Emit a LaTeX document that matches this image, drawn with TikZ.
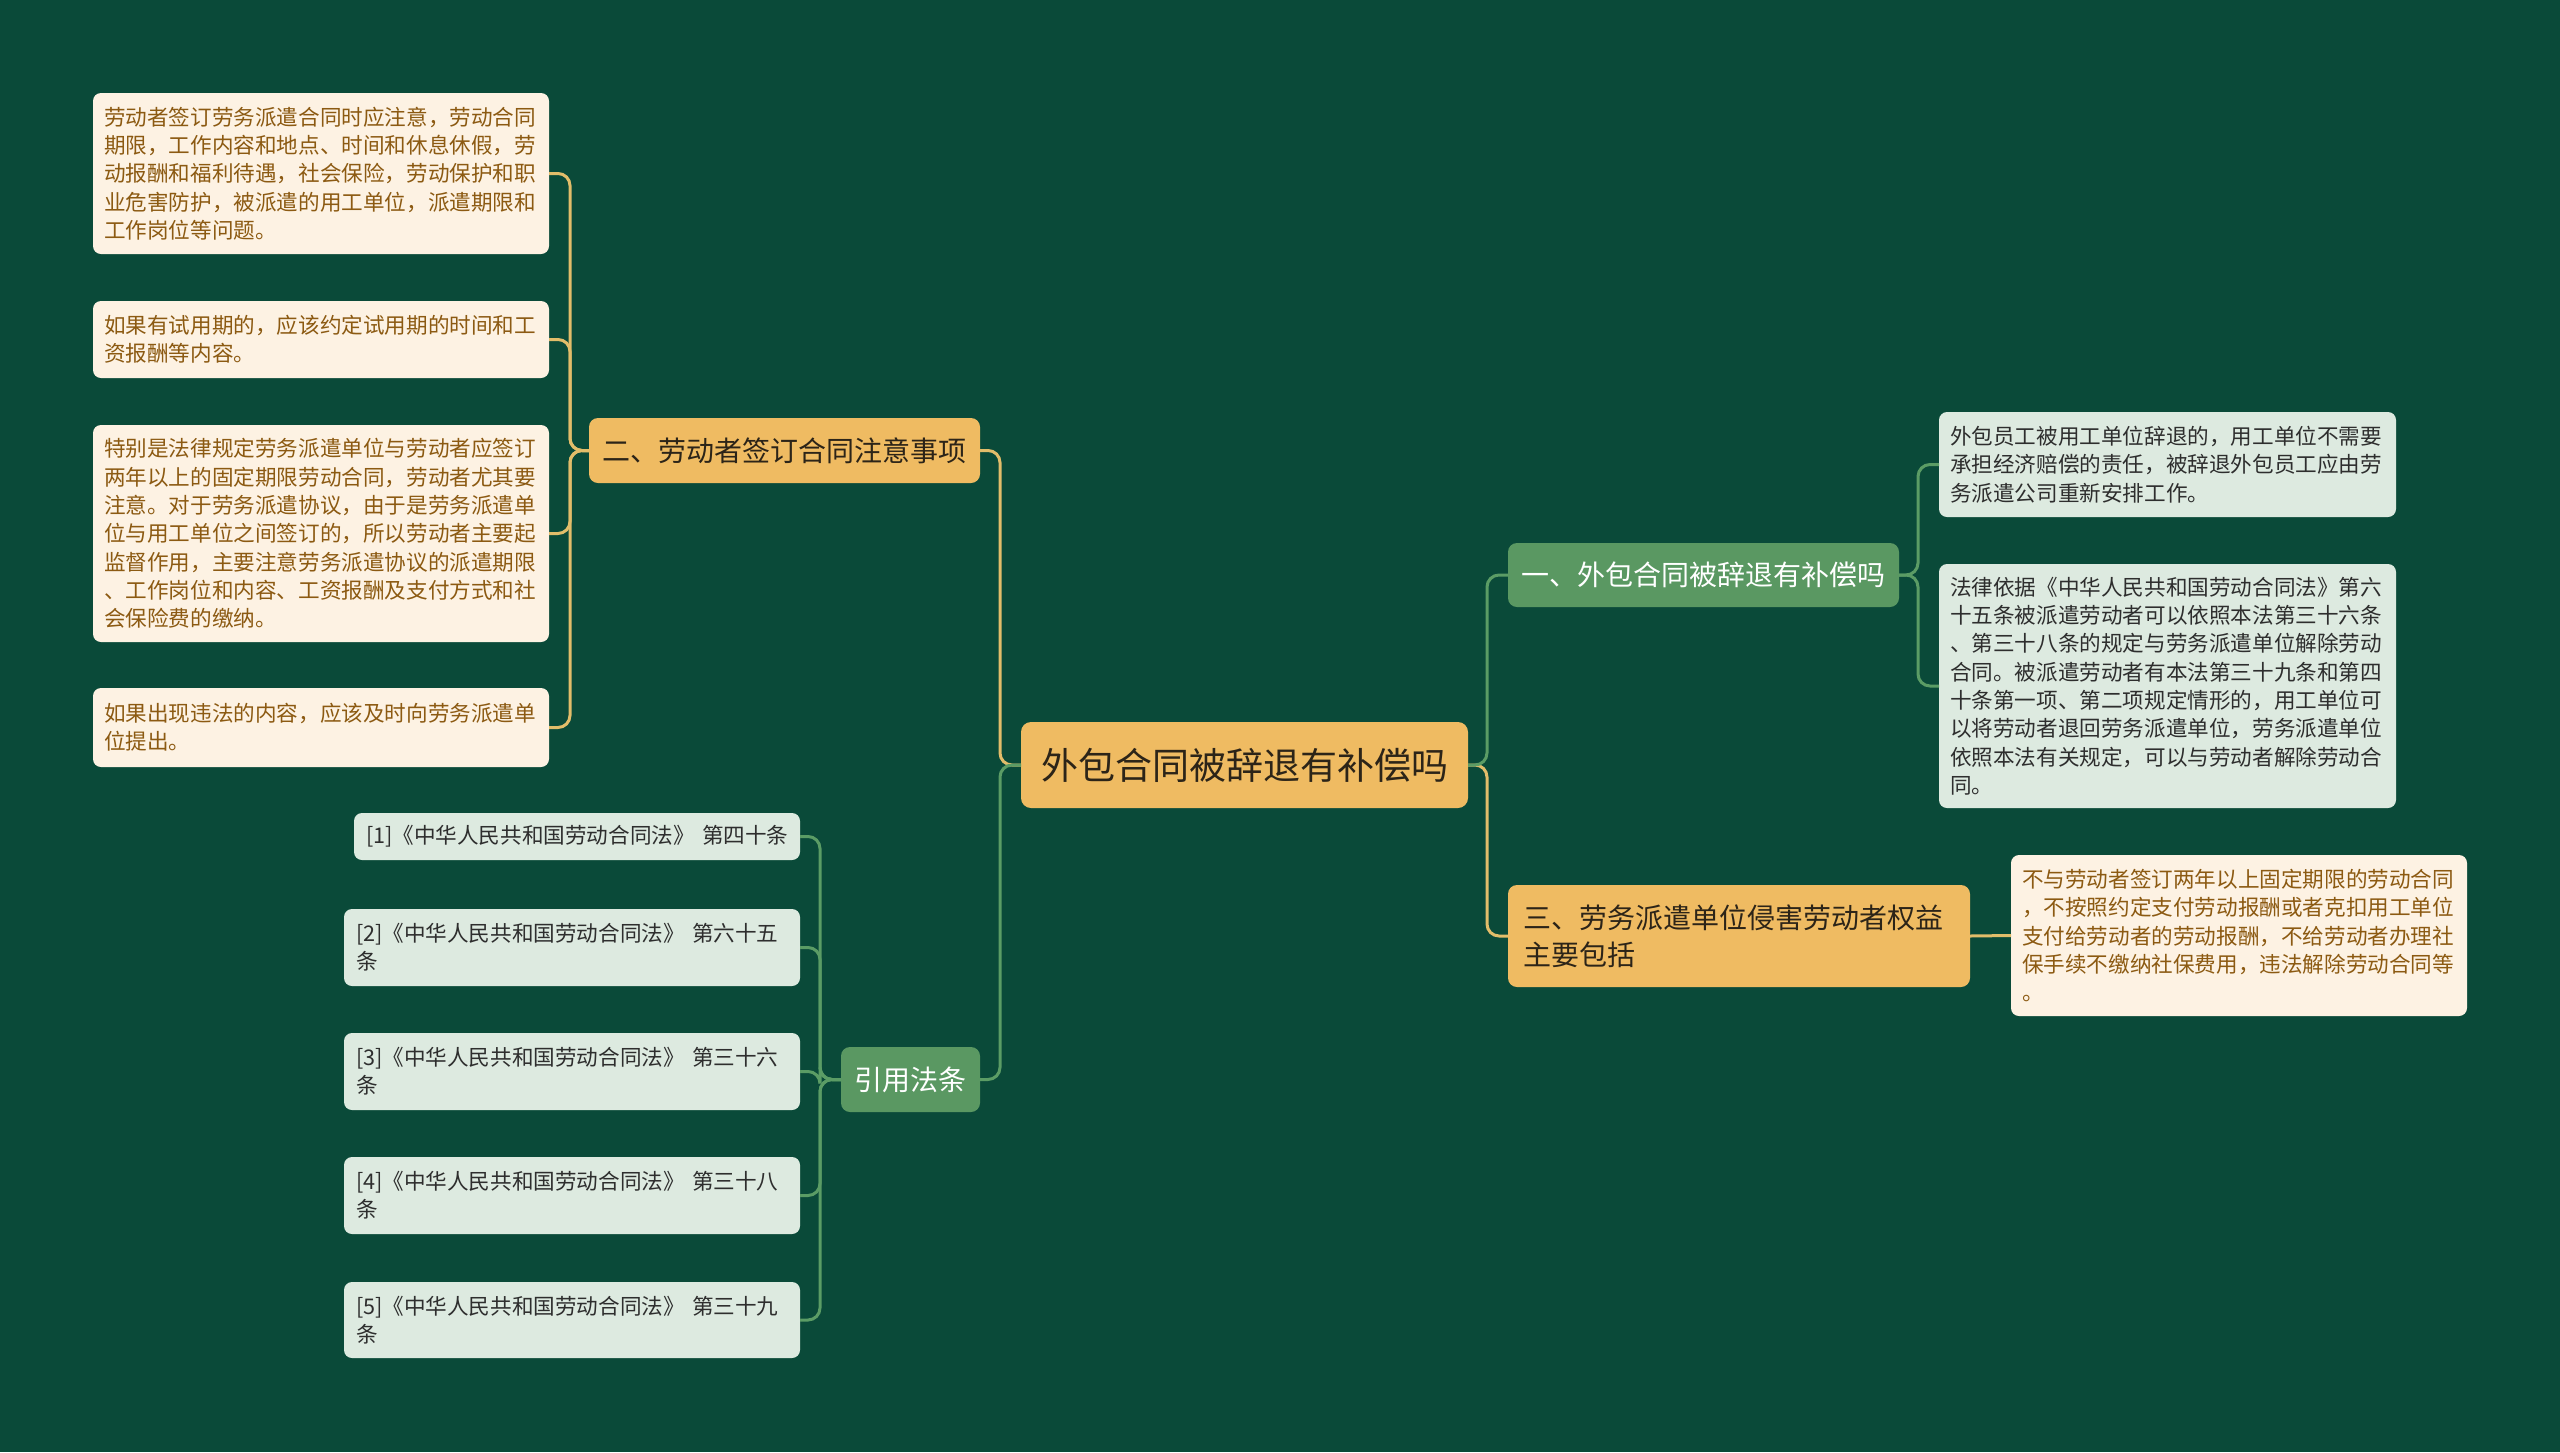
\documentclass[tikz,border=0pt]{standalone}
\usepackage{fontspec}
\setmainfont{Noto Sans CJK SC}
\definecolor{bg}{HTML}{0A4A39}
\definecolor{gold}{HTML}{EFBB62}
\definecolor{goldline}{HTML}{E2BD6A}
\definecolor{grn}{HTML}{5A9862}
\definecolor{grnline}{HTML}{5B9C65}
\definecolor{cream}{HTML}{FDF2E3}
\definecolor{creamtxt}{HTML}{8C5A12}
\definecolor{lgrn}{HTML}{DDEAE0}
\definecolor{darktxt}{HTML}{2E2E2E}
\definecolor{branchtxt}{HTML}{2C2418}
\begin{document}
\begin{tikzpicture}[x=1pt,y=-1pt,
  every node/.style={inner sep=0pt, outer sep=0pt},
  leafc/.style={fill=cream, text=creamtxt, rounded corners=8pt, inner xsep=11pt, inner ysep=0pt,
    align=left, font=\fontsize{21.6}{28.3}\selectfont, anchor=north west},
  leafg/.style={fill=lgrn, text=darktxt, rounded corners=8pt, inner xsep=11pt, inner ysep=0pt,
    align=left, font=\fontsize{21.6}{28.3}\selectfont, anchor=north west},
  brgold/.style={fill=gold, text=branchtxt, rounded corners=9pt, font=\fontsize{28}{36.7}\selectfont, anchor=north west},
  brgreen/.style={fill=grn, text=white, rounded corners=9pt, font=\fontsize{28}{36.7}\selectfont, anchor=north west},
  rootbox/.style={fill=gold, text=branchtxt, rounded corners=10pt, font=\fontsize{37}{44}\selectfont, anchor=north west},
  gl/.style={draw=goldline, line width=3pt, rounded corners=12pt},
  gr/.style={draw=grnline, line width=3pt, rounded corners=12pt}
]
\fill[bg] (0,0) rectangle (2560,1452);
\useasboundingbox (0,0) rectangle (2560,1452);

% root
\node[rootbox, minimum width=447pt, minimum height=86pt] (root) at (1021,722) {外包合同被辞退有补偿吗};

% branches
\node[brgold, minimum width=391pt, minimum height=65pt] (b2) at (589,418) {二、劳动者签订合同注意事项};
\node[brgreen, minimum width=139pt, minimum height=65pt] (b4) at (841,1047) {引用法条};
\node[brgreen, minimum width=391pt, minimum height=64pt] (b1) at (1508,543) {一、外包合同被辞退有补偿吗};
\node[brgold, minimum height=102pt, text width=432pt, inner xsep=15pt, align=left] (b3) at (1508,885) {三、劳务派遣单位侵害劳动者权益\\主要包括};

% left leaves
\node[leafc, text width=434pt, minimum height=161pt] (l1) at (93,93) {劳动者签订劳务派遣合同时应注意，劳动合同\\期限，工作内容和地点、时间和休息休假，劳\\动报酬和福利待遇，社会保险，劳动保护和职\\业危害防护，被派遣的用工单位，派遣期限和\\工作岗位等问题。};
\node[leafc, text width=434pt, minimum height=77pt] (l2) at (93,301) {如果有试用期的，应该约定试用期的时间和工\\资报酬等内容。};
\node[leafc, text width=434pt, minimum height=217pt] (l3) at (93,425) {特别是法律规定劳务派遣单位与劳动者应签订\\两年以上的固定期限劳动合同，劳动者尤其要\\注意。对于劳务派遣协议，由于是劳务派遣单\\位与用工单位之间签订的，所以劳动者主要起\\监督作用，主要注意劳务派遣协议的派遣期限\\、工作岗位和内容、工资报酬及支付方式和社\\会保险费的缴纳。};
\node[leafc, text width=434pt, minimum height=79pt] (l4) at (93,688) {如果出现违法的内容，应该及时向劳务派遣单\\位提出。};

% references
\node[leafg, text width=422pt, inner xsep=12pt, minimum height=47pt] (f1) at (354,813) {\mbox{[1]《中华人民共和国劳动合同法》 第四十条}};
\node[leafg, text width=432pt, inner xsep=12pt, minimum height=77pt] (f2) at (344,909) {[2]《中华人民共和国劳动合同法》 第六十五\\条};
\node[leafg, text width=432pt, inner xsep=12pt, minimum height=77pt] (f3) at (344,1033) {[3]《中华人民共和国劳动合同法》 第三十六\\条};
\node[leafg, text width=432pt, inner xsep=12pt, minimum height=77pt] (f4) at (344,1157) {[4]《中华人民共和国劳动合同法》 第三十八\\条};
\node[leafg, text width=432pt, inner xsep=12pt, minimum height=76pt] (f5) at (344,1282) {[5]《中华人民共和国劳动合同法》 第三十九\\条};

% right leaves
\node[leafg, text width=435pt, minimum height=105pt] (r1) at (1939,412) {外包员工被用工单位辞退的，用工单位不需要\\承担经济赔偿的责任，被辞退外包员工应由劳\\务派遣公司重新安排工作。};
\node[leafg, text width=435pt, minimum height=244pt] (r2) at (1939,564) {法律依据《中华人民共和国劳动合同法》第六\\十五条被派遣劳动者可以依照本法第三十六条\\、第三十八条的规定与劳务派遣单位解除劳动\\合同。被派遣劳动者有本法第三十九条和第四\\十条第一项、第二项规定情形的，用工单位可\\以将劳动者退回劳务派遣单位，劳务派遣单位\\依照本法有关规定，可以与劳动者解除劳动合\\同。};
\node[leafc, text width=434pt, minimum height=161pt] (r3) at (2011,855) {不与劳动者签订两年以上固定期限的劳动合同\\，不按照约定支付劳动报酬或者克扣用工单位\\支付给劳动者的劳动报酬，不给劳动者办理社\\保手续不缴纳社保费用，违法解除劳动合同等\\。};

% connectors: root
\draw[gl] (root.west) -- ++(-21,0) |- (b2.east);
\draw[gl] (root.east) -- ++(19,0) |- (b3.west);
\draw[gr] (root.west) -- ++(-21,0) |- (b4.east);
\draw[gr] (root.east) -- ++(19,0) |- (b1.west);

% branch 2 -> left leaves
\foreach \t in {l1,l2,l3,l4}
  \draw[gl] (b2.west) -- ++(-19,0) |- (\t.east);

% branch 4 -> references
\foreach \t in {f1,f2,f3,f4,f5}
  \draw[gr] (b4.west) -- ++(-21,0) |- (\t.east);

% branch 1 -> right leaves
\foreach \t in {r1,r2}
  \draw[gr] (b1.east) -- ++(19,0) |- (\t.west);

% branch 3 -> leaf
\draw[gl] (b3.east) -- (r3.west);
\end{tikzpicture}
\end{document}
